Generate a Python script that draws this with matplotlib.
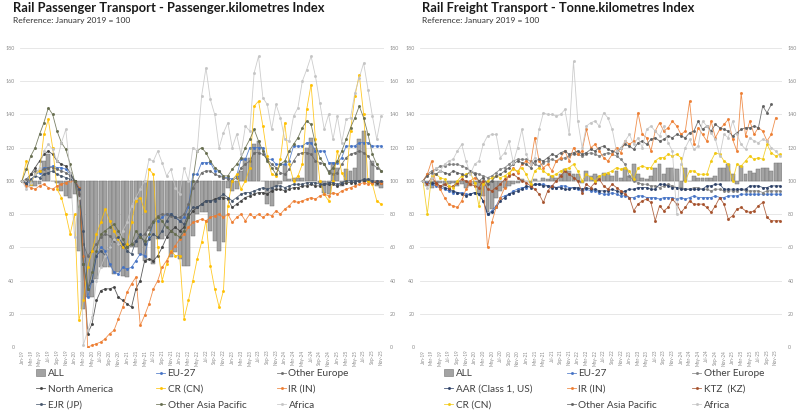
import matplotlib
matplotlib.use('Agg')
import matplotlib.pyplot as plt
from matplotlib.patches import Patch
import numpy as np
import pandas as pd

plt.rcParams['font.family'] = ['Lato', 'DejaVu Sans']

nan = np.nan

# ---------------- Passenger (Jan-19 .. Nov-25) ----------------
pax_months = pd.date_range('2019-01-01', periods=83, freq='MS').strftime('%b-%y').tolist()

pax_all = [100, 100, 97, 97, 98, 112, 116, 100, 99, 94, 91, 90,
           92, 58, 23, 30, 30, 41, 48, 48, 48, 44, 45, 43,
           42, 60, 60, 56, 52, 70, 50, 65, 65, 67, 54, 57,
           53, 49, 49, 67, 80, 81, 81, 70, 64, 58, 63, 96,
           94, 95, 106, 114, 114, 122, 124, 100, 86, 85, 97, 98,
           110, 101, 102, 102, 102, 120, 126, 120, 99, 93, 92, 111,
           108, 97, 107, 106, 108, 125, 130, 101, 112, 97, 96]
pax_eu27 = [100, 98, 100, 104, 105, 108, 108, 109, 108, 108, 107, 104,
            100, 95, 55, 30, 40, 55, 60, 58, 50, 45, 44, 48,
            47, 48, 52, 56, 55, 66, 75, 76, 78, 80, 80, 78,
            76, 78, 84, 104, 104, 111, 111, 111, 106, 106, 102, 102,
            101, 103, 113, 113, 120, 120, 120, 120, 113, 113, 110, 110,
            110, 112, 121, 121, 121, 123, 123, 118, 118, 118, 111, 111,
            111, 114, 121, 121, 121, 123, 123, 123, 121, 121, 121]
pax_other_eu = [100, 101, 104, 106, 106, 107, 108, 108, 107, 106, 105, 103,
                100, 92, 62, 55, 58, 62, 66, 68, 67, 64, 62, 60,
                60, 62, 64, 66, 68, 72, 76, 79, 80, 80, 79, 78,
                78, 80, 86, 96, 100, 105, 106, 106, 104, 103, 102, 101,
                100, 102, 108, 110, 112, 117, 117, 116, 113, 110, 108, 105,
                104, 107, 112, 116, 117, 117, 116, 112, 111, 110, 106, 104,
                105, 110, 114, 116, 117, 118, 117, 115, 110, 108, 106]
pax_north_am = [100, 98, 104, 108, 112, 116, 118, 116, 112, 110, 109, 105,
                100, 96, 50, 8, 14, 28, 34, 35, 35, 36, 30, 28,
                26, 24, 35, 40, 52, 53, 52, 55, 60, 66, 70, 72,
                70, 72, 78, 82, 84, 86, 88, 88, 89, 90, 90, 89,
                84, 86, 88, 90, 91, 92, 93, 93, 92, 94, 95, 95,
                94, 95, 96, 96, 97, 97, 98, 97, 97, 98, 98, 98,
                97, 98, 99, 99, 99, 100, 100, 100, 99, 99, 99]
pax_cr = [100, 112, 98, 104, 106, 128, 137, 120, 95, 90, 80, 68,
          80, 16, 28, 48, 58, 68, 75, 83, 76, 70, 65, 60,
          62, 75, 88, 90, 82, 107, 104, 60, 40, 50, 58, 55,
          55, 17, 28, 40, 53, 63, 76, 49, 35, 24, 34, 85,
          100, 104, 95, 100, 108, 145, 148, 133, 115, 104, 103, 113,
          135, 110, 100, 103, 110, 143, 158, 125, 100, 92, 88, 100,
          118, 105, 100, 130, 151, 164, 140, 100, 98, 88, 86]
pax_ir = [100, 97, 96, 95, 97, 98, 96, 95, 97, 98, 99, 100,
          100, 96, 55, 0, 1, 2, 3, 5, 8, 10, 17, 24,
          33, 38, 42, 13, 19, 26, 35, 40, 48, 52, 57, 61,
          65, 68, 72, 75, 76, 77, 76, 78, 79, 80, 78, 80,
          75, 78, 80, 76, 80, 78, 80, 78, 80, 79, 82, 80,
          83, 85, 88, 87, 88, 89, 90, 89, 91, 92, 91, 93,
          92, 94, 95, 96, 97, 98, 99, 98, 99, 100, 99]
pax_ejr = [100, 99, 101, 103, 102, 104, 105, 106, 104, 103, 102, 101,
           100, 95, 70, 35, 40, 55, 58, 55, 60, 65, 66, 62,
           58, 56, 64, 68, 62, 65, 68, 66, 70, 76, 80, 78,
           76, 74, 80, 84, 84, 86, 88, 88, 88, 90, 92, 90,
           88, 90, 92, 93, 93, 94, 95, 96, 95, 96, 97, 97,
           96, 97, 98, 98, 98, 99, 99, 99, 98, 98, 99, 99,
           98, 99, 100, 100, 100, 100, 101, 101, 100, 100, 100]
pax_other_ap = [100, 107, 115, 120, 128, 135, 144, 140, 130, 123, 119, 110,
                100, 85, 50, 35, 45, 58, 68, 70, 72, 74, 70, 65,
                60, 62, 70, 66, 64, 68, 75, 78, 76, 72, 70, 68,
                66, 70, 78, 100, 118, 120, 117, 112, 108, 106, 103, 103,
                107, 110, 114, 120, 125, 131, 124, 118, 112, 108, 104, 110,
                112, 118, 122, 126, 132, 136, 134, 122, 114, 110, 105, 108,
                112, 118, 125, 132, 138, 145, 138, 128, 116, 110, 106]
pax_africa = [100, 95, 99, 104, 108, 118, 122, 119, 112, 123, 131, 105,
              66, 90, 1, 10, 18, 40, 48, 55, 60, 65, 62, 70,
              75, 85, 90, 95, 100, 113, 112, 118, 111, 103, 107, 96,
              92, 108, 100, 120, 118, 151, 168, 149, 140, 120, 129, 135,
              120, 128, 116, 133, 130, 165, 175, 150, 146, 131, 146, 138,
              125, 124, 139, 144, 160, 167, 175, 163, 147, 131, 140, 125,
              139, 123, 137, 138, 153, 162, 171, 155, 139, 125, 139]

# ---------------- Freight (Jan-19 .. Dec-25) ----------------
frt_months = pd.date_range('2019-01-01', periods=84, freq='MS').strftime('%b-%y').tolist()

frt_all = [100, 97, 96, 98, 99, 97, 98, 99, 97, 98, 96, 97,
           98, 92, 91, 81, 83, 90, 94, 96, 97, 98, 99, 101,
           100, 99, 101, 100, 102, 101, 103, 102, 104, 107, 106, 104,
           104, 99, 106, 103, 104, 103, 105, 104, 103, 106, 102, 108,
           103, 110, 104, 102, 101, 103, 108, 110, 104, 108, 108, 107,
           96, 108, 100, 103, 102, 102, 102, 102, 103, 108, 108, 110,
           104, 98, 109, 104, 106, 105, 107, 108, 108, 106, 111, 111]
frt_eu27 = [100, 99, 98, 97, 96, 95, 94, 93, 93, 93, 92, 92,
            93, 92, 88, 80, 82, 85, 90, 91, 92, 94, 95, 96,
            96, 97, 98, 98, 98, 97, 97, 96, 97, 97, 96, 96,
            95, 94, 95, 94, 94, 93, 92, 92, 93, 92, 91, 91,
            90, 90, 91, 91, 90, 90, 90, 89, 90, 90, 90, 89,
            90, 89, 90, 91, 90, 90, 90, 90, 91, 90, 90, 91,
            91, 91, 92, 92, 92, 92, 92, 92, 92, 92, 92, 92]
frt_other_eu = [100, 104, 106, 107, 109, 109, 110, 110, 110, 109, 108, 106,
                105, 104, 103, 102, 103, 105, 107, 108, 110, 112, 113, 113,
                113, 112, 110, 109, 111, 112, 113, 112, 113, 114, 115, 116,
                116, 115, 116, 117, 116, 115, 116, 117, 116, 115, 113, 110,
                103, 100, 99, 98, 98, 97, 97, 96, 97, 98, 97, 96,
                96, 95, 95, 96, 96, 95, 95, 94, 95, 95, 94, 94,
                94, 94, 95, 94, 94, 94, 94, 93, 94, 94, 94, 94]
frt_aar = [100, 98, 99, 98, 97, 96, 95, 94, 93, 92, 91, 92,
           93, 92, 88, 80, 81, 84, 88, 90, 92, 93, 94, 95,
           97, 96, 98, 98, 97, 97, 96, 96, 96, 95, 95, 96,
           96, 95, 96, 95, 95, 94, 94, 94, 95, 94, 93, 94,
           95, 95, 96, 96, 96, 95, 95, 98, 98, 97, 96, 96,
           95, 95, 95, 95, 95, 95, 97, 97, 98, 98, 95, 95,
           95, 95, 95, 95, 97, 97, 97, 96, 96, 97, 97, 97]
frt_ir = [100, 104, 112, 98, 95, 90, 86, 85, 84, 88, 95, 100,
          102, 100, 98, 60, 75, 84, 90, 96, 104, 108, 105, 110,
          112, 110, 126, 112, 108, 110, 106, 112, 114, 118, 112, 120,
          116, 118, 131, 120, 122, 118, 114, 112, 116, 120, 117, 124,
          122, 124, 141, 128, 126, 118, 130, 135, 130, 132, 136, 133,
          128, 130, 148, 122, 132, 128, 124, 136, 126, 131, 134, 137,
          125, 118, 153, 127, 136, 128, 132, 130, 124, 128, 138, nan]
frt_ktz = [100, 98, 102, 99, 97, 98, 96, 97, 99, 101, 100, 98,
           97, 96, 100, 95, 94, 96, 98, 101, 103, 104, 102, 100,
           99, 97, 95, 92, 87, 94, 97, 100, 103, 106, 104, 102,
           100, 93, 98, 96, 99, 101, 97, 95, 98, 96, 94, 92,
           90, 82, 86, 88, 89, 87, 76, 85, 82, 84, 89, 86,
           81, 84, 88, 86, 86, 86, 84, 81, 85, 90, 86, 77,
           79, 83, 84, 82, 81, 82, 85, 87, 78, 76, 76, 76]
frt_cr = [100, 80, 103, 104, 102, 101, 97, 96, 100, 103, 104, 105,
          99, 85, 98, 100, 102, 103, 102, 103, 105, 107, 106, 108,
          104, 98, 106, 108, 106, 104, 103, 104, 106, 107, 108, 110,
          106, 100, 104, 102, 100, 103, 104, 105, 106, 108, 107, 108,
          106, 101, 108, 109, 108, 108, 112, 114, 114, 116, 115, 116,
          114, 100, 106, 106, 104, 104, 104, 112, 117, 116, 112, 110,
          100, 110, 109, 112, 115, 113, 114, 113, 122, 117, 115, 116]
frt_other_ap = [100, 103, 105, 104, 106, 105, 104, 106, 105, 104, 103, 106,
                104, 100, 102, 98, 100, 103, 104, 106, 108, 110, 112, 111,
                110, 108, 112, 113, 112, 114, 116, 115, 117, 118, 116, 117,
                118, 116, 117, 119, 118, 120, 121, 119, 118, 117, 120, 122,
                121, 119, 123, 124, 122, 125, 126, 124, 125, 127, 126, 128,
                127, 126, 129, 130, 136, 131, 133, 130, 134, 132, 131, 130,
                127, 129, 131, 132, 132, 133, 132, 145, 141, 146, nan, nan]
frt_africa = [100, 96, 102, 108, 106, 110, 112, 113, 118, 122, 112, 104,
              110, 112, 122, 127, 128, 128, 114, 117, 124, 111, 120, 131,
              116, 110, 114, 131, 141, 140, 140, 139, 140, 143, 128, 172,
              136, 120, 133, 135, 136, 133, 141, 138, 131, 118, 120, 124,
              128, 122, 126, 120, 131, 133, 130, 127, 133, 123, 118, 80,
              110, 120, 125, 119, 121, 136, 133, 129, 125, 115, 128, 126,
              136, 128, 122, 119, 126, 124, 123, 125, 124, 120, 118, 115]

pax_series = [
    ('EU-27', pax_eu27, '#4472C4'),
    ('Other Europe', pax_other_eu, '#6b6b6b'),
    ('North America', pax_north_am, '#404040'),
    ('CR (CN)', pax_cr, '#FFC000'),
    ('IR (IN)', pax_ir, '#ED7D31'),
    ('EJR (JP)', pax_ejr, '#44546A'),
    ('Other Asia Pacific', pax_other_ap, '#646b4c'),
    ('Africa', pax_africa, '#c4c4c4'),
]
frt_series = [
    ('EU-27', frt_eu27, '#4472C4'),
    ('Other Europe', frt_other_eu, '#7F7F7F'),
    ('AAR (Class 1, US)', frt_aar, '#2b3f66'),
    ('IR (IN)', frt_ir, '#ED7D31'),
    ('KTZ  (KZ)', frt_ktz, '#A5502A'),
    ('CR (CN)', frt_cr, '#F2C80F'),
    ('Other Asia Pacific', frt_other_ap, '#5f5f5f'),
    ('Africa', frt_africa, '#c4c4c4'),
]

W, H = 800, 416
fig = plt.figure(figsize=(W / 100, H / 100), dpi=100)


def px(x, y):
    return x / W, 1 - y / H


def draw_panel(rect, months, all_vals, series, x_first, x_step, legend_x):
    ax = fig.add_axes(rect)
    n = len(months)
    x = np.arange(n)
    allv = np.array(all_vals, dtype=float)
    ax.bar(x, allv - 100, bottom=100, width=0.9, color='#a3a3a3',
           edgecolor='#747474', linewidth=0.35, zorder=2)
    handles = {}
    for name, vals, col in series:
        h, = ax.plot(x, vals, color=col, lw=0.6, marker='o', ms=1.2,
                     mec=col, mfc=col, alpha=0.85, zorder=3)
        handles[name] = h
    ax.set_ylim(0, 180)
    x0 = (rect[0] * W - x_first) / x_step
    x1 = ((rect[0] + rect[2]) * W - x_first) / x_step
    ax.set_xlim(x0, x1)
    ax.set_yticks(range(0, 181, 20))
    ax.grid(axis='y', color='#e3e3e3', lw=0.6, zorder=0)
    ax.set_axisbelow(True)
    for s in ax.spines.values():
        s.set_visible(False)
    ax.set_xticks(range(0, 83, 2))
    ax.set_xticklabels([months[i] for i in range(0, 83, 2)], rotation=90,
                       fontsize=3.3, color='#8c8c8c')
    ax.tick_params(axis='both', length=0, pad=2)
    ax.tick_params(axis='y', labelsize=3.8, labelcolor='#8c8c8c',
                   labelright=True, labelleft=True, pad=4)

    # legend in three columns, filled row by row
    names = ['ALL'] + [s[0] for s in series]
    handles['ALL'] = Patch(facecolor='#a3a3a3', edgecolor='#747474', lw=0.4)
    for c in range(3):
        col_names = names[c::3]
        lx, ly = px(legend_x[c], 369)
        fig.legend([handles[k] for k in col_names], col_names,
                   loc='upper left', bbox_to_anchor=(lx, ly),
                   frameon=False, fontsize=7.2, handlelength=0.9,
                   handletextpad=0.25, labelspacing=0.68,
                   borderpad=0, borderaxespad=0, labelcolor='#404040')
    return ax


draw_panel([20 / W, 1 - 347 / H, 364 / W, 299 / H], pax_months, pax_all,
           pax_series, 22, 4.38, [36, 156, 277])
draw_panel([420 / W, 1 - 347 / H, 362 / W, 299 / H], frt_months, frt_all,
           frt_series, 423, 4.30, [444, 567, 692])

fig.text(*px(13, 2), 'Rail Passenger Transport - Passenger.kilometres Index',
         fontsize=9.3, fontweight='bold', va='top', ha='left', color='#1a1a1a')
fig.text(*px(13, 17), 'Reference: January 2019 = 100', fontsize=6.1,
         va='top', ha='left', color='#333333')
fig.text(*px(422, 2), 'Rail Freight Transport - Tonne.kilometres Index',
         fontsize=9.3, fontweight='bold', va='top', ha='left', color='#1a1a1a')
fig.text(*px(422, 17), 'Reference: January 2019 = 100', fontsize=6.1,
         va='top', ha='left', color='#333333')

fig.savefig('out.png', dpi=100, facecolor='white')
